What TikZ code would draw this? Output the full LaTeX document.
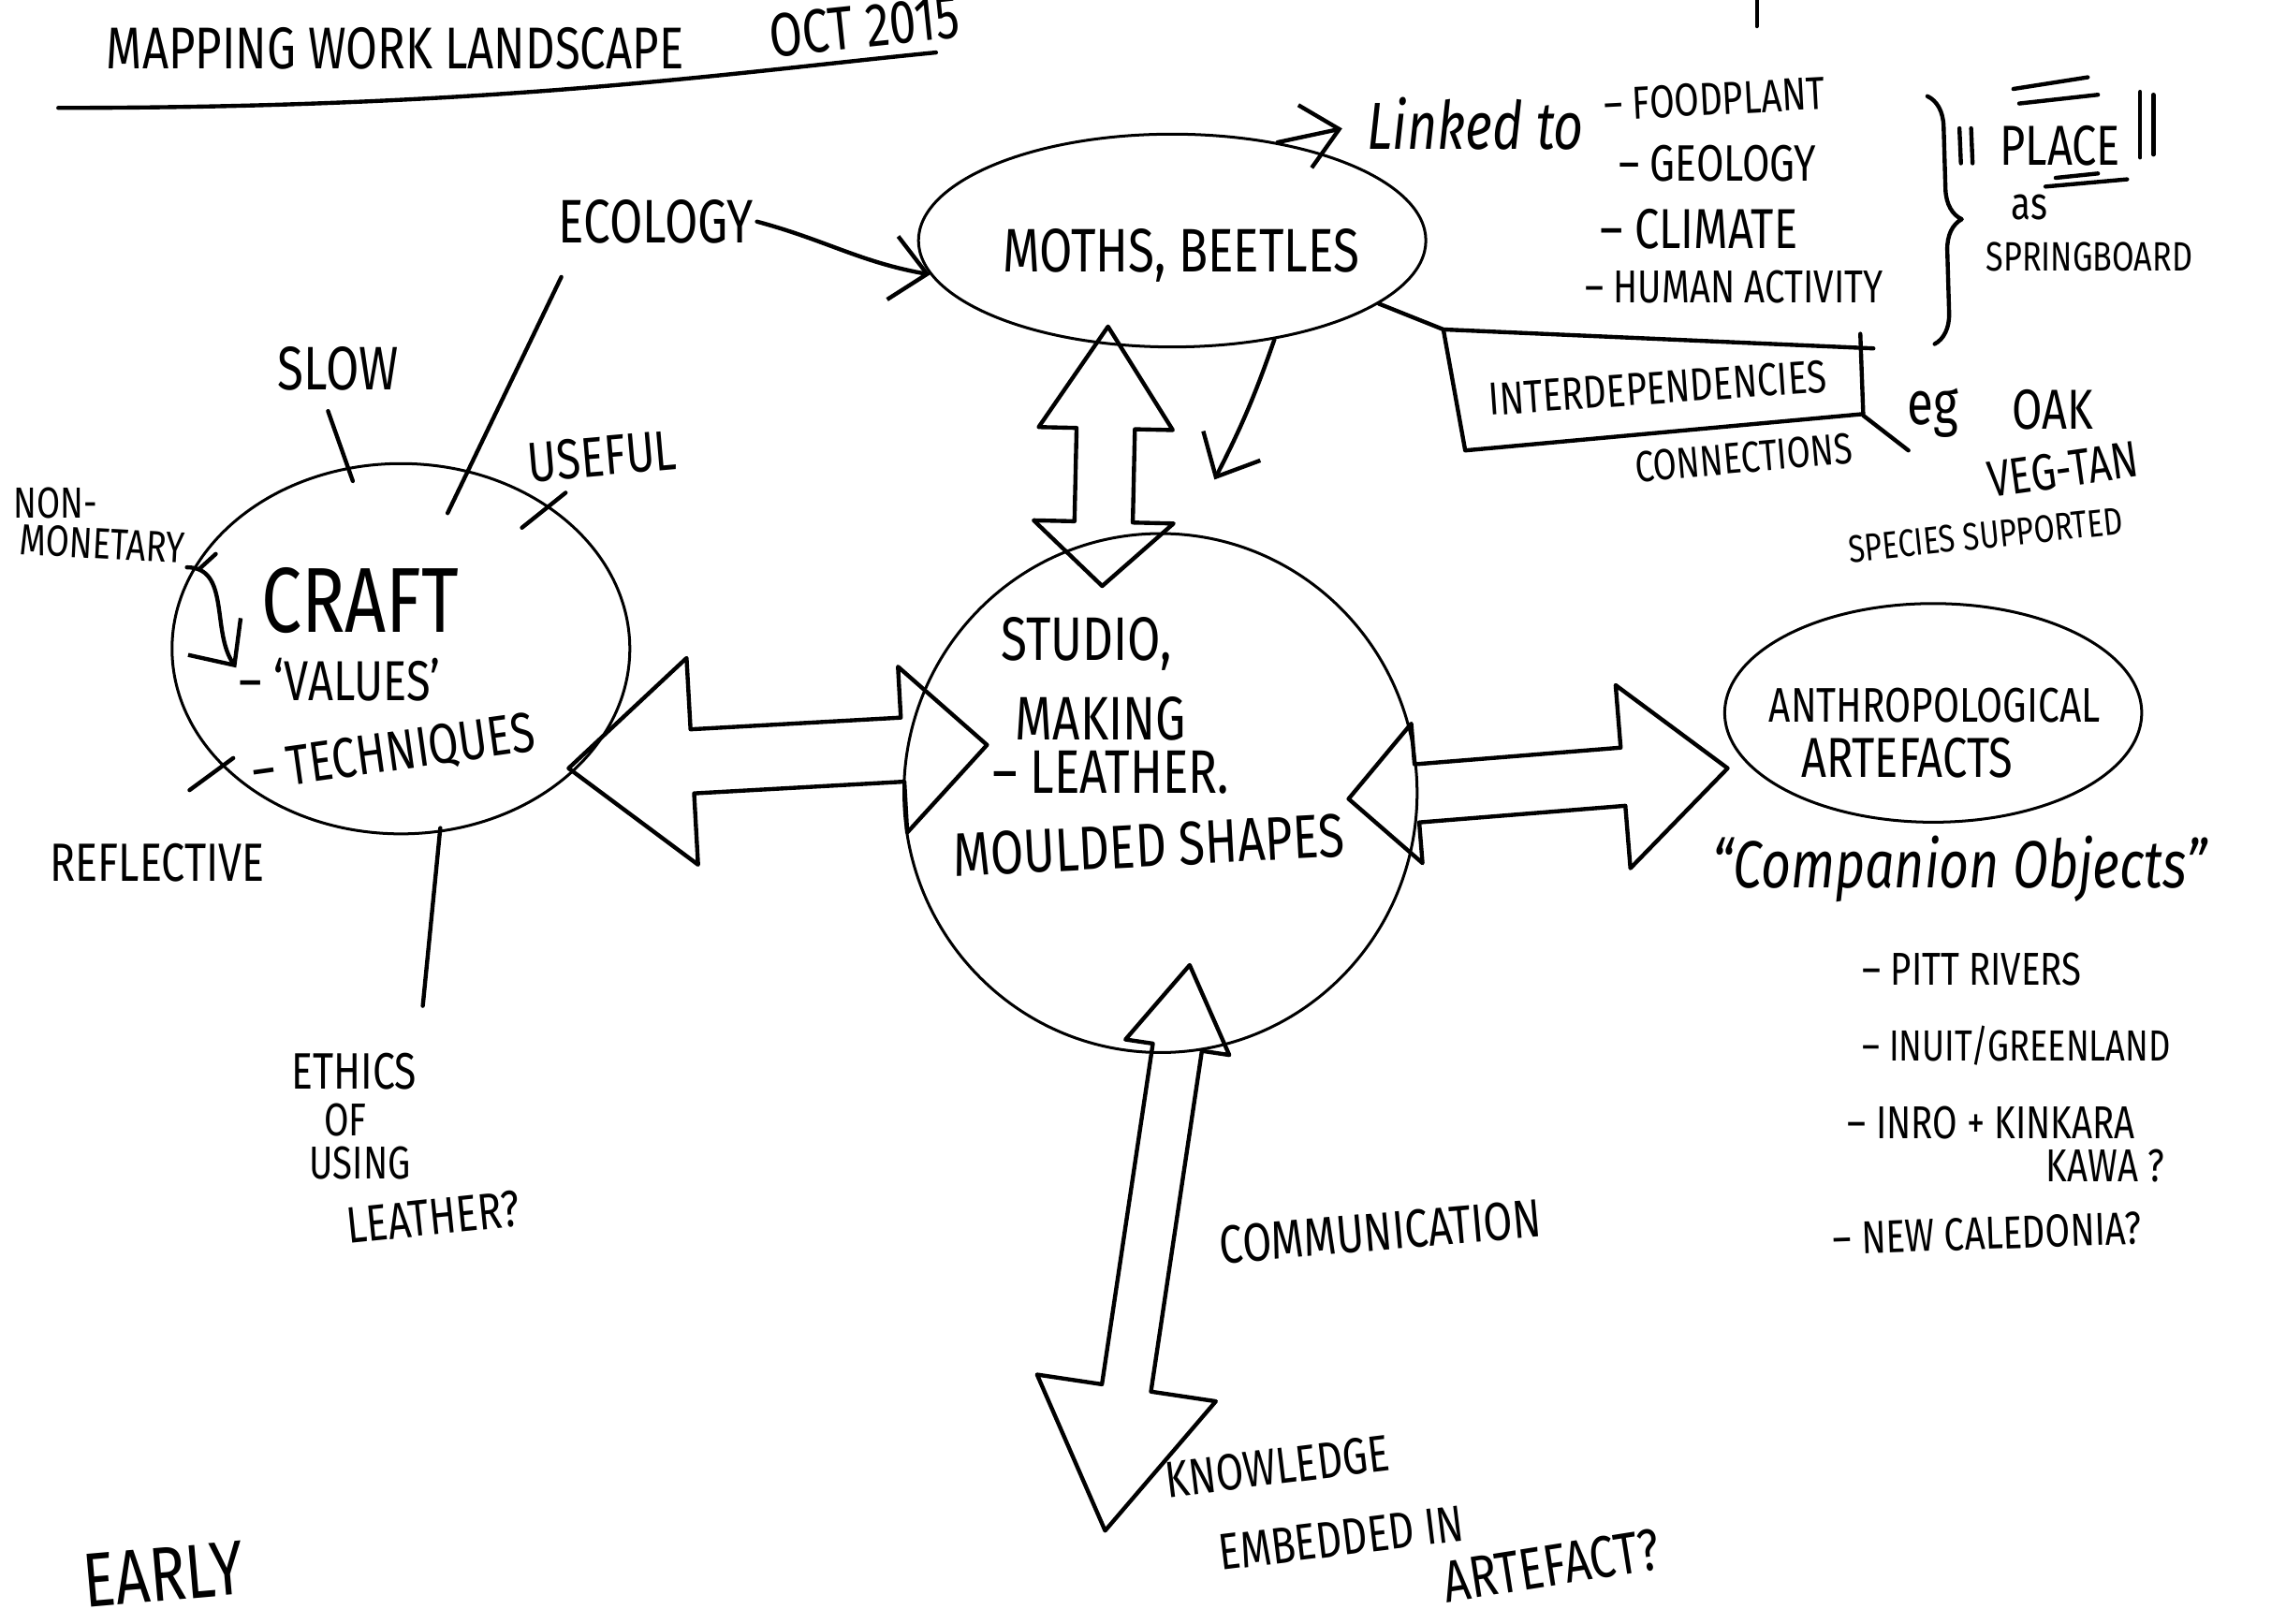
\documentclass[tikz,border=0pt]{standalone}
\usepackage{fontspec}
\setmainfont{Fira Sans}[FakeStretch=0.78]
\usepackage{tikz}
\usetikzlibrary{arrows.meta, shapes.geometric, calc, decorations.pathreplacing}

\newcommand{\handsize}[1]{\fontsize{#1}{#1}\selectfont}
% hollow two-headed arrow: tip A, tip B, head length A, head half width A,
% head length B, head half width B, shaft half width
\newcommand{\dblarrow}[7]{%
  \draw[pen] (#1)
    -- ($(#1)!#3!(#2)!#4!90:(#2)$)
    -- ($(#1)!#3!(#2)!#7!90:(#2)$)
    -- ($(#2)!#5!(#1)!#7!-90:(#1)$)
    -- ($(#2)!#5!(#1)!#6!-90:(#1)$)
    -- (#2)
    -- ($(#2)!#5!(#1)!#6!90:(#1)$)
    -- ($(#2)!#5!(#1)!#7!90:(#1)$)
    -- ($(#1)!#3!(#2)!#7!-90:(#2)$)
    -- ($(#1)!#3!(#2)!#4!-90:(#2)$)
    -- cycle;}

\begin{document}
\begin{tikzpicture}[
    every node/.style={inner sep=0.5pt},
    pen/.style={line width=0.8pt, line cap=round, line join=round},
    bubble/.style={ellipse, draw, line width=0.55pt, inner sep=0pt},
    txt/.style={font=\handsize{#1}},
    script/.style={font=\handsize{#1}\itshape},
    thinarrow/.style={pen, -{Straight Barb[length=2.4mm, width=4.4mm]}},
  ]

  \path[use as bounding box, fill=white] (0,0) rectangle (15.68,-11.14);

  % title
  \node[txt=11.5] (title) at (2.71,-0.33) {MAPPING WORK LANDSCAPE};
  \node[txt=12, rotate=6] (date) at (5.93,-0.18) {OCT 2015};
  \draw[pen] (0.40,-0.74) .. controls (3.4,-0.74) and (5.0,-0.50) .. (6.42,-0.36);
  \draw[pen] (12.05,0) -- (12.05,-0.18);

  % the four bubbles
  \node[bubble, minimum width=3.48cm, minimum height=1.46cm] (moths) at (8.04,-1.65) {};
  \node[bubble, minimum width=3.52cm, minimum height=3.56cm] (studio) at (7.96,-5.44) {};
  \node[bubble, minimum width=3.14cm, minimum height=2.54cm] (craft) at (2.75,-4.45) {};
  \node[bubble, minimum width=2.86cm, minimum height=1.50cm] (anthro) at (13.26,-4.89) {};

  \node[txt=12] (mothstext) at (8.10,-1.75) {MOTHS, BEETLES};
  \node[txt=12] (studio1) at (7.45,-4.42) {STUDIO,};
  \node[txt=12] (studio2) at (7.55,-4.93) {MAKING};
  \node[txt=12] (studio3) at (7.62,-5.30) {– LEATHER.};
  \node[txt=12, rotate=3] (studio4) at (7.88,-5.80) {MOULDED SHAPES};
  \node[txt=18] (crafttext) at (2.47,-4.12) {CRAFT};
  \node[txt=11] (values) at (2.33,-4.66) {– ‘VALUES’};
  \node[txt=11, rotate=8] (techniques) at (2.70,-5.17) {– TECHNIQUES};
  \node[txt=9.5] (anthro1) at (13.27,-4.84) {ANTHROPOLOGICAL};
  \node[txt=11] (anthro2) at (13.08,-5.20) {ARTEFACTS};

  % ecology and linked to
  \node[txt=12] (ecology) at (4.50,-1.52) {ECOLOGY};
  \draw[thinarrow] (ecology.east) to[out=-15,in=170] (moths.188);
  \node[script=13] (linked) at (10.12,-0.85) {Linked to};
  \draw[thinarrow, shorten >=1.5mm] (moths.43) -- (linked.west);
  \node[txt=9, anchor=west, rotate=3] (food) at (10.98,-0.72) {– FOODPLANT};
  \node[txt=10, anchor=west] (geology) at (11.08,-1.12) {– GEOLOGY};
  \node[txt=11, anchor=west] (climate) at (10.95,-1.57) {– CLIMATE};
  \node[txt=9, anchor=west] (human) at (10.85,-1.97) {– HUMAN ACTIVITY};
  \draw[pen, decorate, decoration={brace, amplitude=6pt}] (13.22,-0.66) -- (13.27,-2.36);

  \node[txt=11] (place) at (14.13,-1.00) {PLACE};
  \draw[pen] (13.44,-0.88) -- (13.45,-1.12);
  \draw[pen] (13.52,-0.88) -- (13.53,-1.12);
  \draw[pen] (14.68,-0.63) -- (14.68,-1.08);
  \draw[pen] (14.77,-0.65) -- (14.77,-1.06);
  \draw[pen] (13.81,-0.61) -- (14.32,-0.53);
  \draw[pen] (13.85,-0.71) -- (14.39,-0.65);
  \draw[pen] (14.10,-1.22) -- (14.39,-1.19);
  \draw[pen] (14.03,-1.28) -- (14.59,-1.23);
  \node[txt=9] (as) at (13.92,-1.42) {as};
  \node[txt=8] (springboard) at (14.33,-1.76) {SPRINGBOARD};

  % interdependencies
  \coordinate (boxtl) at (9.90,-2.26);
  \draw[pen] (moths.-17) -- (boxtl) -- (12.85,-2.39);
  \draw[pen] (boxtl) -- (10.05,-3.09) -- (12.78,-2.84) -- (12.76,-2.29);
  \node[txt=9, rotate=4] (interdep) at (11.37,-2.66) {INTERDEPENDENCIES};
  \node[txt=8.5, rotate=5] (connections) at (11.96,-3.14) {CONNECTIONS};
  \draw[pen] (12.78,-2.85) -- (13.09,-3.09);
  \node[txt=12] (eg) at (13.26,-2.83) {eg};
  \node[txt=11] (oak) at (14.08,-2.81) {OAK};
  \node[txt=10, rotate=8] (vegtan) at (14.15,-3.22) {VEG-TAN};
  \node[txt=7.5, rotate=6] (species) at (13.62,-3.67) {SPECIES SUPPORTED};

  \coordinate (feed) at (8.33,-3.29);
  \draw[thinarrow] (moths.-44) to[bend left=4] (feed);

  % around craft
  \node[txt=12] (slow) at (2.32,-2.53) {SLOW};
  \draw[pen] (2.25,-2.82) -- (2.42,-3.30);
  \draw[pen] (3.85,-1.90) -- (3.07,-3.52);
  \node[txt=11, rotate=5] (useful) at (4.13,-3.13) {USEFUL};
  \draw[pen] (3.88,-3.38) -- (3.58,-3.62);
  \node[txt=8.5] (non) at (0.38,-3.45) {NON-};
  \node[txt=8.5, rotate=-3] (monetary) at (0.70,-3.73) {MONETARY};
  \draw[thinarrow] (monetary.south east) to[out=0,in=125] (1.62,-4.58);
  \draw[pen] (1.37,-3.90) -- (1.48,-3.80);
  \node[txt=10.5] (reflective) at (1.08,-5.92) {REFLECTIVE};
  \draw[pen] (1.30,-5.42) -- (1.60,-5.20);
  \draw[pen] (3.02,-5.68) -- (2.90,-6.90);
  \node[txt=10] (ethics) at (2.43,-7.35) {ETHICS};
  \node[txt=9] (of) at (2.37,-7.68) {OF};
  \node[txt=9] (using) at (2.47,-7.98) {USING};
  \node[txt=10, rotate=6] (leather) at (2.97,-8.35) {LEATHER?};

  % block arrows
  \coordinate (vtop) at (7.60,-2.24);
  \coordinate (vbot) at (7.56,-4.02);
  \dblarrow{vtop}{vbot}{0.70cm}{0.46cm}{0.44cm}{0.48cm}{0.20cm}
  \coordinate (lleft) at (3.90,-5.27);
  \coordinate (lright) at (6.77,-5.11);
  \dblarrow{lleft}{lright}{0.85cm}{0.71cm}{0.58cm}{0.57cm}{0.22cm}
  \coordinate (rleft) at (9.25,-5.48);
  \coordinate (rright) at (11.85,-5.27);
  \dblarrow{rleft}{rright}{0.47cm}{0.48cm}{0.72cm}{0.63cm}{0.20cm}
  \coordinate (dtop) at (8.16,-6.62);
  \coordinate (dbot) at (7.58,-10.50);
  \dblarrow{dtop}{dbot}{0.57cm}{0.36cm}{0.99cm}{0.62cm}{0.17cm}

  % anthropological side
  \node[script=13] (companion) at (13.44,-5.96) {“Companion Objects”};
  \node[txt=9, anchor=west] (pitt) at (12.75,-6.65) {– PITT RIVERS};
  \node[txt=8.5, anchor=west] (inuit) at (12.75,-7.17) {– INUIT/GREENLAND};
  \node[txt=9, anchor=west] (inro) at (12.65,-7.70) {– INRO + KINKARA};
  \node[txt=9, anchor=west] (kawa) at (14.01,-8.00) {KAWA ?};
  \node[txt=9, anchor=west, rotate=2] (caledonia) at (12.55,-8.50) {– NEW CALEDONIA?};

  % communication
  \node[txt=10.5, rotate=5] (communication) at (9.47,-8.45) {COMMUNICATION};
  \node[txt=10, rotate=7] (knowledge) at (8.76,-10.06) {KNOWLEDGE};
  \node[txt=10, rotate=7] (embedded) at (9.20,-10.55) {EMBEDDED IN};
  \node[txt=11.5, rotate=9] (artefact) at (10.64,-10.74) {ARTEFACT?};
  \node[txt=15, rotate=5] (early) at (1.12,-10.80) {EARLY};
\end{tikzpicture}
\end{document}
